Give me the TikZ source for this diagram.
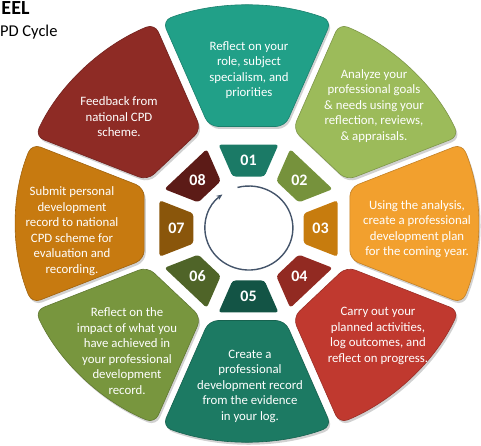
\documentclass[tikz,border=0pt]{standalone}
\usepackage{fontspec}
\setmainfont{Carlito}
\usetikzlibrary{arrows.meta}

\definecolor{tealA}{HTML}{21A088}\definecolor{tealAd}{HTML}{1B7A66}
\definecolor{limeB}{HTML}{9CBB5A}\definecolor{limeBd}{HTML}{76923C}
\definecolor{orangeC}{HTML}{F2A02E}\definecolor{orangeCd}{HTML}{C77C0E}
\definecolor{redD}{HTML}{C0392F}\definecolor{redDd}{HTML}{922A22}
\definecolor{tealE}{HTML}{1C7A63}\definecolor{tealEd}{HTML}{135445}
\definecolor{oliveF}{HTML}{78963E}\definecolor{oliveFd}{HTML}{4F6428}
\definecolor{amberG}{HTML}{C77A10}\definecolor{amberGd}{HTML}{8A560B}
\definecolor{wineH}{HTML}{8E2B25}\definecolor{wineHd}{HTML}{5C1B17}
\definecolor{hubline}{HTML}{44546A}

\tikzset{
  petal/.style={rounded corners=9pt, line width=.6pt},
  stub/.style={rounded corners=3pt},
  petalshade/.style={rounded corners=9pt, fill=black, opacity=.18},
  steptext/.style={text=white, align=center, font=\fontsize{12.8}{15.5}\selectfont},
  numtext/.style={text=white, font=\bfseries\fontsize{16}{16}\selectfont},
}

\begin{document}
\begin{tikzpicture}[x=1pt,y=-1pt]
\useasboundingbox (0,0) rectangle (481,446);

% title
\node[anchor=base east, font=\bfseries\fontsize{20}{20}\selectfont] (title) at (33,15) {EEL};
\node[anchor=base east, font=\fontsize{16.5}{16.5}\selectfont] (subtitle) at (61,37) {PD Cycle};

\coordinate (hub) at (248.5,228.5);

% petals
\begin{scope}[shift={(247,223.5)}, xscale=1.06]
\foreach \k/\col in {1/tealA, 2/limeB, 3/orangeC, 4/redD, 5/tealE, 6/oliveF, 7/amberG, 8/wineH}{
  \pgfmathsetmacro\a{45*\k-135}
  \fill[petalshade, shift={(1.5,2.5)}] (\a-22.5+2.217:103.42) -- (\a-22.5+1.051:218)
    arc[start angle=\a-22.5+1.051, end angle=\a+22.5-1.051, radius=218] -- (\a+22.5-2.217:103.42) -- cycle;
  \filldraw[petal, fill=\col, draw=\col!80!black] (\a-22.5+2.217:103.42) -- (\a-22.5+1.051:218)
    arc[start angle=\a-22.5+1.051, end angle=\a+22.5-1.051, radius=218] -- (\a+22.5-2.217:103.42) -- cycle;
}
\end{scope}

% number stubs
\begin{scope}[shift={(248.5,228.5)}, xscale=1.06]
\foreach \k/\dark in {1/tealAd, 2/limeBd, 3/orangeCd, 4/redDd, 5/tealEd, 6/oliveFd, 7/amberGd, 8/wineHd}{
  \pgfmathsetmacro\a{45*\k-135}
  \fill[stub, fill=\dark] (\a-22.5+6.364:54.13) -- (\a-22.5+3.882:88.63)
    -- (\a+22.5-3.882:88.63) -- (\a+22.5-6.364:54.13) -- cycle;
  \node[numtext] (n\k) at (\a:68) {0\k};
}
\end{scope}

% cycle arrow
\draw[hubline, line width=1.4pt, -{Stealth[length=6pt,width=5pt]}] (hub) ++(-105:42.5)
  arc[start angle=-105, end angle=233, x radius=44, y radius=42];

% step texts
\node[steptext] (s1) at (249,70) {Reflect on your\\role, subject\\specialism, and\\priorities};
\node[steptext] (s2) at (374,106) {Analyze your\\professional goals\\\& needs using your\\reflection, reviews,\\\& appraisals.};
\node[steptext] (s3) at (417,229) {Using the analysis,\\create a professional\\development plan\\for the coming year.};
\node[steptext] (s4) at (378,336) {Carry out your\\planned activities,\\log outcomes, and\\reflect on progress.};
\node[steptext] (s5) at (250,386) {Create a\\professional\\development record\\from the evidence\\in your log.};
\node[steptext] (s6) at (127,351) {Reflect on the\\impact of what you\\have achieved in\\your professional\\development\\record.};
\node[steptext] (s7) at (72,231) {Submit personal\\development\\record to national\\CPD scheme for\\evaluation and\\recording.};
\node[steptext] (s8) at (119,117) {Feedback from\\national CPD\\scheme.};

\end{tikzpicture}
\end{document}
